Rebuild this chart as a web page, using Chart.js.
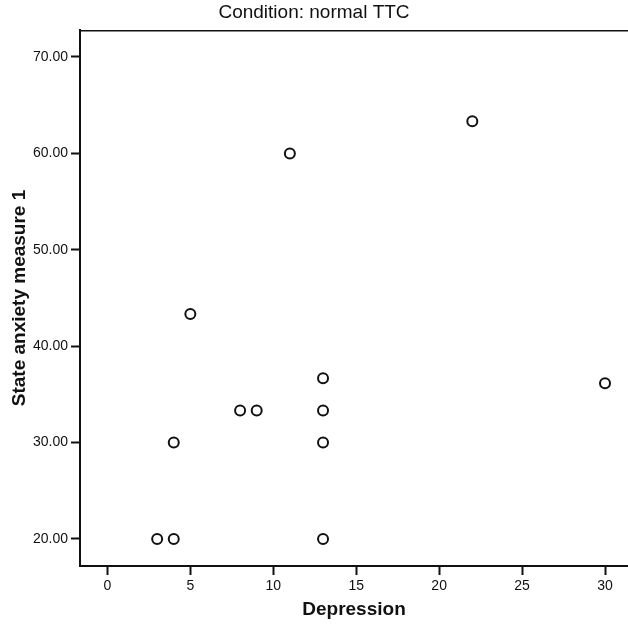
<!DOCTYPE html>
<html>
<head>
<meta charset="utf-8">
<script src="https://cdn.jsdelivr.net/npm/chart.js@4/dist/chart.umd.min.js"></script>
<style>
	body { margin: 0; background: #fff; }
</style>
</head>
<body>
<canvas id="scatterChart" width="628" height="626"></canvas>
<script>
var depression = [3, 4, 13, 4, 13, 8, 9, 13, 13, 5, 11, 22, 30];
var anxiety = [20, 20, 20, 30, 30, 33.33, 33.33, 33.33, 36.67, 43.33, 60, 63.33, 36.15];
var xTicks = [0, 5, 10, 15, 20, 25, 30];
var yTicks = [20, 30, 40, 50, 60, 70];

var points = [];
for (var i = 0; i < depression.length; i++) {
	points.push({ x: depression[i], y: anxiety[i] });
}

// top frame line of the plot box
var topFrame = {
	id: 'topFrame',
	afterDraw: function(chart) {
		var ctx = chart.ctx;
		var area = chart.chartArea;
		ctx.save();
		ctx.strokeStyle = '#111';
		ctx.lineWidth = 1.5;
		ctx.beginPath();
		ctx.moveTo(area.left, area.top + 0.75);
		ctx.lineTo(area.right, area.top + 0.75);
		ctx.stroke();
		ctx.restore();
	}
};

function renderChart() {
	new Chart('scatterChart', {
		type: 'scatter',
		data: {
			datasets: [{
				data: points,
				pointStyle: 'circle',
				pointRadius: 5,
				pointBorderWidth: 2,
				pointBackgroundColor: '#fff',
				pointBorderColor: '#111'
			}]
		},
		options: {
			responsive: false,
			animation: false,
			layout: { padding: 0, autoPadding: false },
			plugins: {
				legend: { display: false },
				tooltip: { enabled: false },
				title: {
					display: true,
					text: 'Condition: normal TTC',
					color: '#111',
					font: { family: 'Liberation Sans', size: 19, weight: 'normal', lineHeight: 1.2 },
					padding: { top: 1, bottom: 6.2 }
				}
			},
			scales: {
				x: {
					type: 'linear',
					min: -1.652,
					max: 31.386,
					afterBuildTicks: function(scale) {
						scale.ticks = xTicks.map(function(v) { return { value: v }; });
					},
					afterFit: function(scale) {
						scale.height = 60;
						scale.paddingLeft = 0;
						scale.paddingRight = 0;
					},
					grid: { drawOnChartArea: false, drawTicks: true, tickLength: 9, tickWidth: 2, tickColor: '#111' },
					border: { display: true, color: '#111', width: 2 },
					ticks: {
						color: '#111',
						padding: 3,
						maxRotation: 0,
						font: { family: 'Liberation Sans', size: 14 }
					},
					title: {
						display: true,
						text: 'Depression',
						color: '#111',
						font: { family: 'Liberation Sans', size: 19, weight: 'bold', lineHeight: 1.2 },
						padding: { top: 0, bottom: 5 }
					}
				},
				y: {
					type: 'linear',
					min: 17.199,
					max: 72.8,
					afterBuildTicks: function(scale) {
						scale.ticks = yTicks.map(function(v) { return { value: v }; });
					},
					afterFit: function(scale) { scale.width = 80; },
					grid: { drawOnChartArea: false, drawTicks: true, tickLength: 9, tickWidth: 2, tickColor: '#111' },
					border: { display: true, color: '#111', width: 2 },
					ticks: {
						color: '#111',
						padding: 3,
						font: { family: 'Liberation Sans', size: 14 },
						callback: function(v) { return v.toFixed(2); }
					},
					title: {
						display: true,
						text: 'State anxiety measure 1',
						color: '#111',
						font: { family: 'Liberation Sans', size: 19, weight: 'bold', lineHeight: 1.2 },
						padding: { top: 8, bottom: 0 }
					}
				}
			}
		},
		plugins: [topFrame]
	});
}

renderChart();
</script>
</body>
</html>
